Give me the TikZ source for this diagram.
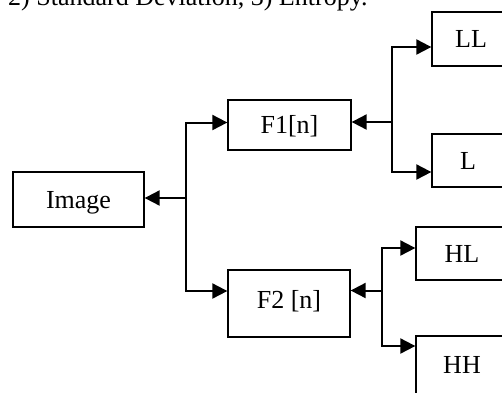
\documentclass[tikz,border=0pt]{standalone}
\usepackage{fontspec}
\setmainfont{Liberation Serif}
\usetikzlibrary{arrows.meta}
\begin{document}
\begin{tikzpicture}[x=1pt,y=-1pt,
  box/.style={draw, line width=1.3pt, inner sep=0pt, font=\fontsize{26}{30}\selectfont, text height=17pt, text depth=0pt},
  conn/.style={line width=2pt, -{Triangle[length=15pt,width=15pt]}}]
\useasboundingbox (0,0) rectangle (502,392);
\node[anchor=base west, inner sep=0pt, font=\fontsize{26}{30}\selectfont] (title) at (8,5.5) {2) Standard Deviation, 3) Entropy.};
\node[box, minimum width=131pt, minimum height=55pt] (img) at (78.5,199.5) {Image};
\node[box, minimum width=123pt, minimum height=50pt] (f1) at (289.5,125) {F1[n]};
\node[box, minimum width=122pt, minimum height=67pt, text depth=7pt] (f2) at (289,303.5) {F2 [n]};
\node[box, minimum width=78pt, minimum height=54pt] (ll) at (471,39) {LL};
\node[box, minimum width=72pt, minimum height=53pt] (l) at (468,160.5) {L};
\node[box, minimum width=92pt, minimum height=53pt] (hl) at (462,253.5) {HL};
\node[box, minimum width=92pt, minimum height=58pt] (hh) at (462,365) {HH};
% junction 1
\coordinate (j1) at (186,198);
\coordinate (j1t) at (186,122.5);
\coordinate (j1b) at (186,291);
\draw[conn] (j1) -- (j1 -| img.east);
\draw[conn] (j1) -- (j1t) -- (j1t -| f1.west);
\draw[conn] (j1) -- (j1b) -- (j1b -| f2.west);
% junction 2
\coordinate (k1) at (392,122);
\coordinate (k1t) at (392,47);
\coordinate (k1b) at (392,172);
\draw[conn] (k1) -- (k1 -| f1.east);
\draw[conn] (k1) -- (k1t) -- (k1t -| ll.west);
\draw[conn] (k1) -- (k1b) -- (k1b -| l.west);
% junction 3
\coordinate (k2) at (382,290.5);
\coordinate (k2t) at (382,248);
\coordinate (k2b) at (382,346);
\draw[conn] (k2) -- (k2 -| f2.east);
\draw[conn] (k2) -- (k2t) -- (k2t -| hl.west);
\draw[conn] (k2) -- (k2b) -- (k2b -| hh.west);
\end{tikzpicture}
\end{document}
